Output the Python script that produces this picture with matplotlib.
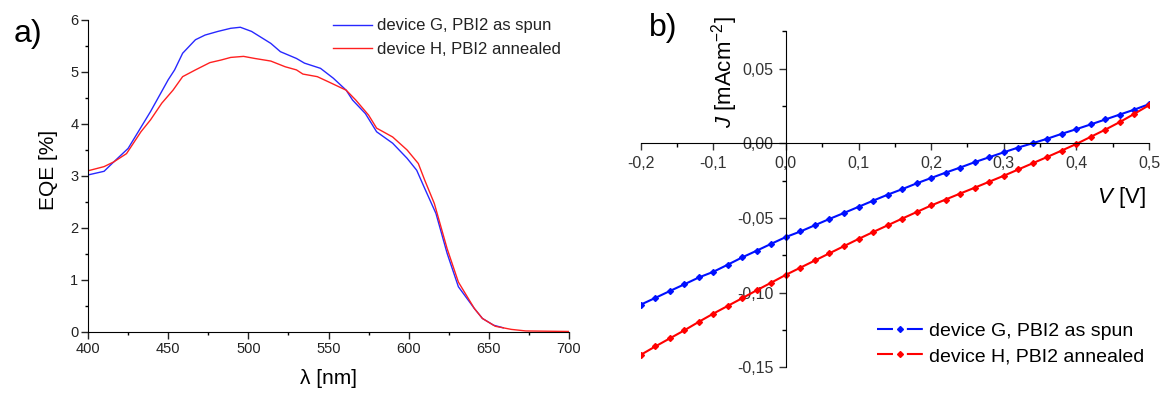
import matplotlib
matplotlib.use("Agg")
import matplotlib.pyplot as plt
from matplotlib.lines import Line2D
from matplotlib.ticker import MultipleLocator, FuncFormatter

plt.rcParams['font.family'] = ['Liberation Sans', 'DejaVu Sans']
plt.rcParams['mathtext.fontset'] = 'custom'
plt.rcParams['mathtext.rm'] = 'Liberation Sans'
plt.rcParams['mathtext.it'] = 'Liberation Sans:italic'
plt.rcParams['axes.unicode_minus'] = False
plt.rcParams['lines.scale_dashes'] = False

# ---- panel a: EQE spectra ----
wl_g = [400, 410, 415, 425, 439, 450, 454, 459, 467, 473, 481, 489, 495, 502,
        514, 520, 530, 535, 545, 553, 561, 565, 573, 580, 590, 599, 605, 610,
        617, 624, 631, 641, 646, 653, 659]
eqe_g = [3.02, 3.09, 3.24, 3.53, 4.24, 4.85, 5.04, 5.36, 5.62, 5.71, 5.78, 5.84,
         5.86, 5.78, 5.55, 5.39, 5.26, 5.17, 5.07, 4.88, 4.65, 4.46, 4.20, 3.85,
         3.63, 3.34, 3.11, 2.76, 2.28, 1.51, 0.87, 0.45, 0.26, 0.13, 0.08]

wl_h = [400, 410, 416, 424, 433, 439, 446, 453, 459, 467, 476, 483, 489, 497,
        504, 514, 523, 530, 534, 543, 550, 561, 567, 575, 580, 590, 599, 606,
        610, 616, 624, 631, 641, 646, 654, 664, 673, 700]
eqe_h = [3.10, 3.18, 3.27, 3.43, 3.85, 4.08, 4.40, 4.65, 4.91, 5.04, 5.18, 5.23,
         5.28, 5.30, 5.26, 5.21, 5.10, 5.04, 4.96, 4.91, 4.81, 4.65, 4.46, 4.17,
         3.92, 3.75, 3.50, 3.24, 2.92, 2.47, 1.60, 0.96, 0.45, 0.26, 0.11, 0.05,
         0.02, 0.01]

# ---- panel b: J-V curves ----
volt = [-0.20, -0.18, -0.16, -0.14, -0.12, -0.10, -0.08, -0.06, -0.04, -0.02,
        0.00, 0.02, 0.04, 0.06, 0.08, 0.10, 0.12, 0.14, 0.16, 0.18,
        0.20, 0.22, 0.24, 0.26, 0.28, 0.30, 0.32, 0.34, 0.36, 0.38,
        0.40, 0.42, 0.44, 0.46, 0.48, 0.50]
j_g = [-0.1080, -0.1035, -0.0989, -0.0944, -0.0898, -0.0860, -0.0812, -0.0763,
       -0.0718, -0.0672, -0.0627, -0.0590, -0.0548, -0.0506, -0.0466, -0.0425,
       -0.0384, -0.0344, -0.0307, -0.0268, -0.0232, -0.0196, -0.0162, -0.0126,
       -0.0093, -0.0060, -0.0028, 0.0001, 0.0031, 0.0064, 0.0095, 0.0127,
       0.0160, 0.0193, 0.0226, 0.0262]
j_h = [-0.1416, -0.1360, -0.1306, -0.1252, -0.1195, -0.1140, -0.1088, -0.1036,
       -0.0983, -0.0932, -0.0880, -0.0832, -0.0784, -0.0736, -0.0688, -0.0640,
       -0.0594, -0.0549, -0.0504, -0.0460, -0.0416, -0.0376, -0.0336, -0.0297,
       -0.0257, -0.0217, -0.0175, -0.0133, -0.0091, -0.0048, -0.0004, 0.0044,
       0.0092, 0.0143, 0.0198, 0.0255]

label_g = "device G, PBI2 as spun"
label_h = "device H, PBI2 annealed"

fig = plt.figure(figsize=(11.66, 3.94), dpi=100)

# ============================================
# PANEL A
# ============================================
ax1 = fig.add_axes([0.0755, 0.1574, 0.4125, 0.7919])
ax1.plot(wl_g, eqe_g, color='#2828ff', lw=1.0, label=label_g)
ax1.plot(wl_h, eqe_h, color='#ff2020', lw=1.0, label=label_h)
ax1.set_xlim(400, 700)
ax1.set_ylim(0, 6)
ax1.spines['top'].set_visible(False)
ax1.spines['right'].set_visible(False)
ax1.xaxis.set_major_locator(MultipleLocator(50))
ax1.xaxis.set_minor_locator(MultipleLocator(25))
ax1.yaxis.set_major_locator(MultipleLocator(1))
ax1.yaxis.set_minor_locator(MultipleLocator(0.5))
ax1.tick_params(which='major', length=5, width=1, labelsize=10.5, pad=2, colors='#222222')
ax1.tick_params(which='minor', length=2.5, width=1)
ax1.set_ylabel('EQE [%]', fontsize=15)
ax1.set_xlabel('λ [nm]', fontsize=15)
ax1.yaxis.set_label_coords(-0.062, 0.52)
ax1.xaxis.set_label_coords(0.5, -0.118)
ax1.legend(loc='upper left', bbox_to_anchor=(0.509, 1.005), frameon=False,
           fontsize=12, handlelength=2.35, handletextpad=0.3, borderpad=0,
           borderaxespad=0, labelspacing=0.5, labelcolor='#222222')
fig.text(0.024, 0.914, 'a)', fontsize=23, ha='center', va='center')

# ============================================
# PANEL B
# ============================================
ax2 = fig.add_axes([0.5495, 0.0675, 0.4359, 0.8538])
ax2.plot(volt, j_g, color='#0010ff', lw=1.5, marker='D', ms=3)
ax2.plot(volt, j_h, color='#ff0000', lw=1.5, marker='D', ms=3)
ax2.set_xlim(-0.2, 0.5)
ax2.set_ylim(-0.15, 0.0752)
ax2.spines['top'].set_visible(False)
ax2.spines['right'].set_visible(False)
ax2.spines['left'].set_position(('data', 0))
ax2.spines['bottom'].set_position(('data', 0))
ax2.xaxis.set_major_locator(MultipleLocator(0.1))
ax2.xaxis.set_minor_locator(MultipleLocator(0.05))
ax2.yaxis.set_major_locator(MultipleLocator(0.05))
ax2.yaxis.set_minor_locator(MultipleLocator(0.025))
ax2.xaxis.set_major_formatter(FuncFormatter(lambda v, p: ('%.1f' % v).replace('.', ',')))
ax2.yaxis.set_major_formatter(FuncFormatter(lambda v, p: ('%.2f' % v).replace('.', ',')))
ax2.tick_params(which='major', length=5, width=1, labelsize=11.5, pad=4, colors='#333333')
ax2.tick_params(which='minor', length=3, width=1)

# legend handles: dash - symbol - dash
handles = [Line2D([0], [0], color='#0010ff', lw=1.5, marker='D', ms=3),
           Line2D([0], [0], color='#ff0000', lw=1.5, marker='D', ms=3)]
leg = ax2.legend(handles, [label_g, label_h], loc='upper left', bbox_to_anchor=(0.752, 0.182),
                 bbox_transform=fig.transFigure, frameon=False, fontsize=14,
                 handlelength=2.4, handletextpad=0.3, borderpad=0, borderaxespad=0,
                 labelspacing=0.4)
for ln in leg.get_lines():
    ln.set_linestyle((0, (11.5, 10)))
fig.text(725 / 1166, 1 - 72 / 394, '$J$ [mAcm$^{-2}$]', fontsize=16, rotation=90,
         ha='center', va='center')
fig.text(1146 / 1166, 1 - 197 / 394, '$V$ [V]', fontsize=16, ha='right', va='center')
fig.text(0.5686, 0.929, 'b)', fontsize=23, ha='center', va='center')

fig.savefig('out.png', dpi=100)
